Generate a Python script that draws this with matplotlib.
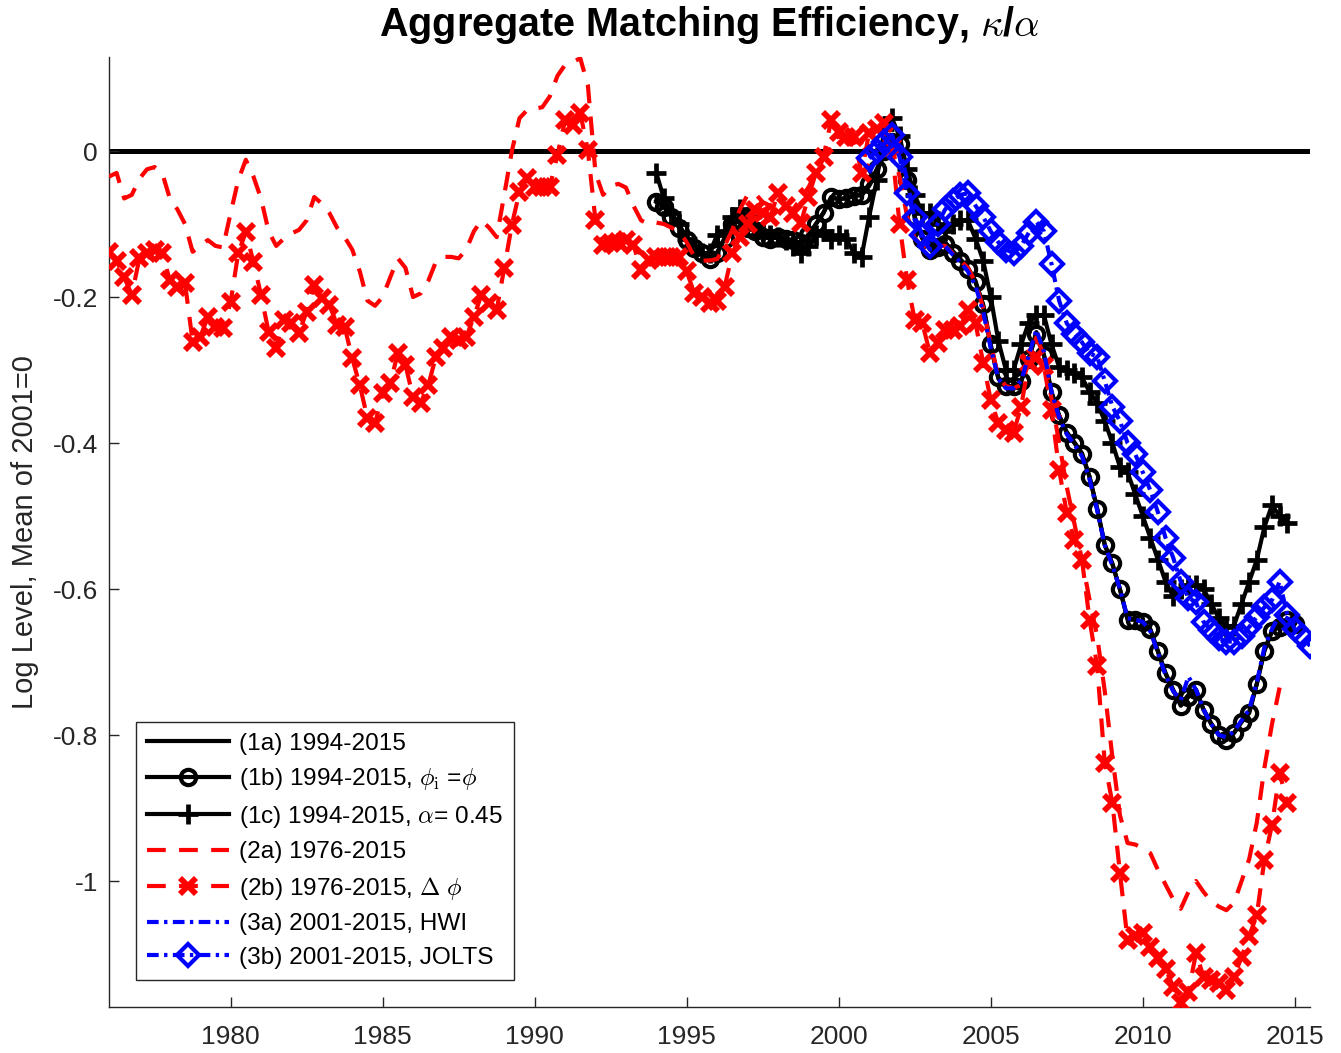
import numpy as np
import matplotlib
matplotlib.use("Agg")
import matplotlib.pyplot as plt

# ---------------- data (quarterly) ----------------
# (1a) 1994-2015
start_1a = 1994.0
v_1a = [
    -0.068, -0.076, -0.089, -0.104,
    -0.121, -0.132, -0.140, -0.147,
    -0.139, -0.119, -0.100, -0.096,
    -0.104, -0.111, -0.117, -0.119,
    -0.119, -0.121, -0.124, -0.128,
    -0.119, -0.100, -0.084, -0.064,
    -0.066, -0.064, -0.060, -0.061,
    -0.048, -0.029, -0.004, 0.014,
    0.011, -0.032, -0.092, -0.119,
    -0.132, -0.128, -0.125, -0.137,
    -0.148, -0.160, -0.178, -0.212,
    -0.268, -0.312, -0.324, -0.324,
    -0.316, -0.284, -0.248, -0.279,
    -0.332, -0.363, -0.385, -0.399,
    -0.414, -0.446, -0.490, -0.539,
    -0.566, -0.601, -0.640, -0.642,
    -0.645, -0.656, -0.686, -0.716,
    -0.739, -0.758, -0.745, -0.738,
    -0.765, -0.784, -0.799, -0.806,
    -0.797, -0.782, -0.768, -0.730,
    -0.684, -0.657, -0.648, -0.641,
    -0.647,
]

# (1b) 1994-2015, phi_i = phi
start_1b = 1994.0
v_1b = [
    -0.070, -0.077, -0.090, -0.105,
    -0.122, -0.133, -0.140, -0.148,
    -0.140, -0.120, -0.100, -0.095,
    -0.105, -0.110, -0.118, -0.120,
    -0.118, -0.120, -0.122, -0.126,
    -0.115, -0.100, -0.085, -0.063,
    -0.066, -0.065, -0.062, -0.060,
    -0.045, -0.025, 0.000, 0.012,
    0.010, -0.040, -0.090, -0.120,
    -0.135, -0.132, -0.128, -0.140,
    -0.150, -0.162, -0.180, -0.210,
    -0.265, -0.310, -0.322, -0.322,
    -0.315, -0.285, -0.250, -0.280,
    -0.330, -0.362, -0.386, -0.400,
    -0.415, -0.447, -0.490, -0.540,
    -0.565, -0.600, -0.642, -0.642,
    -0.645, -0.655, -0.685, -0.715,
    -0.738, -0.760, -0.748, -0.738,
    -0.766, -0.785, -0.800, -0.807,
    -0.797, -0.782, -0.770, -0.730,
    -0.685, -0.658, -0.652, -0.642,
    -0.648,
]

# (1c) 1994-2015, alpha = 0.45
start_1c = 1994.0
v_1c = [
    -0.030, -0.065, -0.085, -0.100,
    -0.120, -0.130, -0.140, -0.140,
    -0.115, -0.110, -0.090, -0.080,
    -0.090, -0.100, -0.110, -0.115,
    -0.118, -0.122, -0.130, -0.140,
    -0.130, -0.115, -0.110, -0.120,
    -0.115, -0.120, -0.140, -0.145,
    -0.090, -0.040, 0.030, 0.045,
    0.020, -0.025, -0.060, -0.085,
    -0.085, -0.100, -0.110, -0.100,
    -0.095, -0.095, -0.120, -0.150,
    -0.200, -0.260, -0.300, -0.300,
    -0.265, -0.235, -0.225, -0.225,
    -0.265, -0.296, -0.300, -0.304,
    -0.310, -0.330, -0.345, -0.370,
    -0.400, -0.433, -0.440, -0.470,
    -0.500, -0.530, -0.560, -0.590,
    -0.610, -0.600, -0.595, -0.595,
    -0.600, -0.620, -0.640, -0.652,
    -0.650, -0.620, -0.590, -0.560,
    -0.515, -0.485, -0.500, -0.510,
]

# (2a) 1976-2015
start_2a = 1976.0
v_2a = [
    -0.035, -0.030, -0.065, -0.060,
    -0.038, -0.025, -0.022, -0.030,
    -0.065, -0.080, -0.100, -0.138,
    -0.130, -0.122, -0.130, -0.132,
    -0.085, -0.040, -0.012, -0.035,
    -0.065, -0.110, -0.130, -0.120,
    -0.113, -0.108, -0.095, -0.063,
    -0.072, -0.085, -0.105, -0.118,
    -0.135, -0.165, -0.205, -0.212,
    -0.200, -0.173, -0.147, -0.160,
    -0.200, -0.195, -0.178, -0.152,
    -0.145, -0.145, -0.147, -0.135,
    -0.110, -0.095, -0.105, -0.118,
    -0.060, 0.000, 0.045, 0.056,
    0.058, 0.060, 0.075, 0.103,
    0.118, 0.122, 0.127, 0.090,
    -0.030, -0.060, -0.048, -0.045,
    -0.050, -0.075, -0.095, -0.100,
    -0.098, -0.100, -0.105, -0.110,
    -0.125, -0.145, -0.150, -0.150,
    -0.148, -0.130, -0.108, -0.080,
    -0.060, -0.058, -0.070, -0.075,
    -0.068, -0.075, -0.080, -0.065,
    -0.050, -0.030, -0.010, 0.015,
    0.020, 0.015, 0.005, 0.000,
    0.005, 0.015, 0.020, 0.005,
    -0.035, -0.090, -0.120, -0.130,
    -0.135, -0.130, -0.130, -0.140,
    -0.150, -0.160, -0.180, -0.215,
    -0.265, -0.310, -0.322, -0.325,
    -0.320, -0.290, -0.255, -0.280,
    -0.340, -0.400, -0.460, -0.510,
    -0.560, -0.615, -0.665, -0.740,
    -0.830, -0.910, -0.948, -0.950,
    -0.955, -0.962, -0.985, -1.005,
    -1.025, -1.038, -1.015, -1.000,
    -1.015, -1.028, -1.035, -1.040,
    -1.030, -1.000, -0.970, -0.920,
    -0.845, -0.785, -0.735,
]

# (2b) 1976-2015, Delta phi
start_2b = 1976.0
v_2b = [
    -0.138, -0.150, -0.173, -0.197,
    -0.147, -0.140, -0.136, -0.140,
    -0.177, -0.186, -0.181, -0.261,
    -0.255, -0.227, -0.241, -0.243,
    -0.207, -0.140, -0.111, -0.152,
    -0.197, -0.248, -0.270, -0.232,
    -0.236, -0.249, -0.220, -0.184,
    -0.201, -0.211, -0.238, -0.241,
    -0.284, -0.321, -0.366, -0.373,
    -0.332, -0.318, -0.277, -0.293,
    -0.337, -0.345, -0.321, -0.282,
    -0.270, -0.255, -0.259, -0.255,
    -0.227, -0.197, -0.208, -0.218,
    -0.160, -0.101, -0.056, -0.037,
    -0.049, -0.049, -0.049, -0.005,
    0.042, 0.036, 0.052, 0.001,
    -0.095, -0.129, -0.126, -0.124,
    -0.122, -0.129, -0.163, -0.149,
    -0.145, -0.145, -0.145, -0.145,
    -0.165, -0.195, -0.200, -0.208,
    -0.205, -0.186, -0.140, -0.118,
    -0.100, -0.081, -0.085, -0.090,
    -0.058, -0.075, -0.085, -0.099,
    -0.063, -0.030, -0.008, 0.042,
    0.026, 0.019, 0.019, -0.030,
    0.025, 0.030, 0.038, 0.005,
    -0.100, -0.177, -0.232, -0.236,
    -0.277, -0.263, -0.245, -0.245,
    -0.240, -0.218, -0.236, -0.290,
    -0.341, -0.373, -0.382, -0.386,
    -0.350, -0.290, -0.282, -0.295,
    -0.355, -0.437, -0.496, -0.533,
    -0.560, -0.642, -0.706, -0.838,
    -0.893, -0.989, -1.081, -1.075,
    -1.071, -1.090, -1.105, -1.120,
    -1.145, -1.167, -1.152, -1.099,
    -1.131, -1.136, -1.140, -1.149,
    -1.131, -1.104, -1.075, -1.047,
    -0.971, -0.923, -0.852, -0.893,
]

# (3a) 2001-2015, HWI
start_3a = 2001.0
v_3a = [
    -0.030, -0.010, 0.010, 0.020,
    0.005, -0.040, -0.095, -0.120,
    -0.135, -0.133, -0.130, -0.142,
    -0.152, -0.165, -0.185, -0.220,
    -0.270, -0.312, -0.325, -0.325,
    -0.315, -0.280, -0.245, -0.275,
    -0.330, -0.365, -0.388, -0.402,
    -0.418, -0.450, -0.492, -0.540,
    -0.568, -0.600, -0.640, -0.642,
    -0.645, -0.658, -0.688, -0.718,
    -0.740, -0.752, -0.720, -0.738,
    -0.765, -0.785, -0.800, -0.803,
    -0.795, -0.780, -0.765, -0.728,
    -0.680, -0.655, -0.635, -0.640,
    -0.648,
]

# (3b) 2001-2015, JOLTS
start_3b = 2001.0
v_3b = [
    -0.010, 0.000, 0.012, 0.022,
    -0.008, -0.058, -0.090, -0.115,
    -0.130, -0.100, -0.080, -0.068,
    -0.060, -0.058, -0.075, -0.090,
    -0.110, -0.125, -0.135, -0.140,
    -0.130, -0.112, -0.097, -0.110,
    -0.155, -0.205, -0.236, -0.250,
    -0.262, -0.277, -0.282, -0.315,
    -0.350, -0.370, -0.400, -0.415,
    -0.440, -0.465, -0.495, -0.530,
    -0.557, -0.590, -0.612, -0.618,
    -0.645, -0.656, -0.667, -0.672,
    -0.672, -0.664, -0.652, -0.638,
    -0.625, -0.615, -0.590, -0.635,
    -0.655, -0.665, -0.678,
]

labels = [
    "(1a) 1994-2015",
    r"(1b) 1994-2015, $\phi_{\mathrm{i}}$ =$\phi$",
    r"(1c) 1994-2015, $\alpha$= 0.45",
    "(2a) 1976-2015",
    r"(2b) 1976-2015, $\Delta$ $\phi$",
    "(3a) 2001-2015, HWI",
    "(3b) 2001-2015, JOLTS",
]
xticks = [1980, 1985, 1990, 1995, 2000, 2005, 2010, 2015]
yticks = [0, -0.2, -0.4, -0.6, -0.8, -1]
ytick_labels = ["0", "-0.2", "-0.4", "-0.6", "-0.8", "-1"]


def qt(start, vals):
    return start + 0.25 * np.arange(len(vals))


plt.rcParams["font.family"] = ["Liberation Sans", "DejaVu Sans"]
plt.rcParams["mathtext.fontset"] = "cm"

fig = plt.figure(figsize=(13.41, 10.53), dpi=100)
ax = fig.add_axes([109 / 1341, 1 - 1007 / 1053, (1310 - 109) / 1341, (1007 - 57) / 1053])

ax.axhline(0, color="black", lw=3.6, zorder=1)

ax.plot(qt(start_1a, v_1a), v_1a, color="black", lw=3, label=labels[0], zorder=2)
ax.plot(qt(start_1b, v_1b), v_1b, color="black", lw=3, marker="o", ms=11,
        mfc="none", mew=3.0, label=labels[1], zorder=3)
ax.plot(qt(start_1c, v_1c), v_1c, color="black", lw=3, marker="+", ms=14,
        mew=3.4, label=labels[2], zorder=4)
ax.plot(qt(start_2a, v_2a), v_2a, color="red", lw=3, dashes=(4.5, 3.2),
        label=labels[3], zorder=5)
ax.plot(qt(start_2b, v_2b), v_2b, color="red", lw=3, dashes=(4.5, 3.2),
        marker="x", ms=12, mew=4.2, label=labels[4], zorder=6)
ax.plot(qt(start_3a, v_3a), v_3a, color="blue", lw=3, dashes=(2.8, 1.3, 0.8, 1.3),
        label=labels[5], zorder=7)
ax.plot(qt(start_3b, v_3b), v_3b, color="blue", lw=3, dashes=(2.8, 1.3, 0.8, 1.3),
        marker="D", ms=11, mfc="none", mew=3.0, label=labels[6], zorder=8)

ax.set_xlim(1976.0, 2015.5)
ax.set_ylim(-1.1726, 0.1288)
ax.set_xticks(xticks)
ax.set_yticks(yticks)
ax.set_yticklabels(ytick_labels)

for s in ["top", "right"]:
    ax.spines[s].set_visible(False)
for s in ["left", "bottom"]:
    ax.spines[s].set_color("#262626")
    ax.spines[s].set_linewidth(1.0)
ax.tick_params(axis="both", direction="in", length=7, width=1.0, colors="#262626",
               labelsize=19, labelcolor="#262626")
ax.tick_params(axis="x", pad=13)
ax.tick_params(axis="y", pad=8)

ax.set_ylabel("Log Level, Mean of 2001=0", fontsize=21, color="#262626", labelpad=10)
ax.set_title(r"Aggregate Matching Efficiency, $\kappa$/$\alpha$", fontsize=28.5,
             fontweight="bold", pad=15)

leg = ax.legend(loc="lower left", bbox_to_anchor=(0.0225, 0.0284), borderaxespad=0,
                fontsize=17.6, frameon=True, fancybox=False, edgecolor="#262626",
                framealpha=1, handlelength=3.35, handletextpad=0.42,
                labelspacing=0.47, borderpad=0.45)
leg.get_frame().set_linewidth(1.0)

fig.savefig("out.png", dpi=100)
